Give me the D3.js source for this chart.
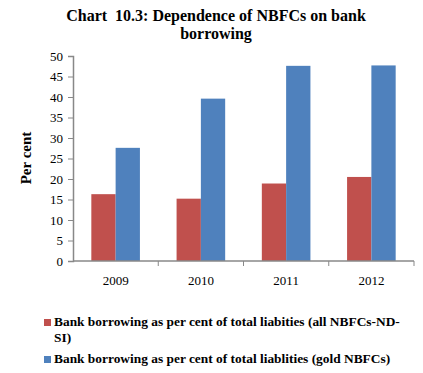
<!DOCTYPE html>
<html>
<head>
<meta charset="utf-8">
<script src="https://cdn.jsdelivr.net/npm/d3@7"></script>
<style>
  body { margin: 0; background: #fff; }
  svg { display: block; font-family: "Liberation Serif", "Times New Roman", "DejaVu Serif", serif; }
</style>
</head>
<body>
<div id="chart"></div>
<script>
// Chart 10.3 values
const years = ["2009", "2010", "2011", "2012"];
const allNbfcs = [16.3, 15.2, 18.9, 20.5];
const goldNbfcs = [27.6, 39.6, 47.6, 47.7];
const yTicks = [0, 5, 10, 15, 20, 25, 30, 35, 40, 45, 50];
const seriesNames = [
  "Bank borrowing as per cent of total liabities (all NBFCs-ND-SI)",
  "Bank borrowing as per cent of total liablities (gold NBFCs)",
];
const seriesColors = ["#C0504D", "#4F81BD"];

const serif = "'Liberation Serif', 'Times New Roman', serif";
const width = 423;
const height = 373;
const margin = { top: 56, right: 9, bottom: 112, left: 73 };
const innerWidth = width - margin.left - margin.right;
const innerHeight = height - margin.top - margin.bottom;

const svg = d3.select("#chart")
  .append("svg")
  .attr("width", width)
  .attr("height", height);

// Title (two lines)
svg.append("text")
  .attr("x", 216)
  .attr("y", 21)
  .attr("text-anchor", "middle")
  .style("font-size", "16px")
  .style("font-weight", "bold")
  .style("white-space", "pre")
  .text("Chart  10.3: Dependence of NBFCs on bank");
svg.append("text")
  .attr("x", 216)
  .attr("y", 39)
  .attr("text-anchor", "middle")
  .style("font-size", "16px")
  .style("font-weight", "bold")
  .text("borrowing");

const g = svg.append("g")
  .attr("transform", `translate(${margin.left}, ${margin.top})`);

// Scales
const x0 = d3.scaleBand()
  .domain(years)
  .range([0, innerWidth])
  .paddingInner(0.43)
  .paddingOuter(0.215);

const x1 = d3.scaleBand()
  .domain([0, 1])
  .range([0, x0.bandwidth()]);

const y = d3.scaleLinear()
  .domain([0, 50])
  .range([innerHeight, 0]);

// Bars
const rows = years.map((yr, i) => ({ year: yr, values: [allNbfcs[i], goldNbfcs[i]] }));

g.selectAll("g.year")
  .data(rows)
  .join("g")
  .attr("class", "year")
  .attr("transform", (d) => `translate(${x0(d.year)}, 0)`)
  .selectAll("rect")
  .data((d) => d.values.map((v, s) => ({ s, v })))
  .join("rect")
  .attr("x", (d) => x1(d.s))
  .attr("y", (d) => y(d.v))
  .attr("width", x1.bandwidth())
  .attr("height", (d) => innerHeight - y(d.v))
  .attr("fill", (d) => seriesColors[d.s]);

// Y axis
const yAxis = g.append("g")
  .call(d3.axisLeft(y).tickValues(yTicks).tickSize(5).tickPadding(5))
  .attr("font-family", serif)
  .attr("font-size", 13);
yAxis.select(".domain").attr("stroke", "#888").attr("stroke-width", 1.5);
yAxis.selectAll(".tick line").attr("stroke", "#888");
yAxis.selectAll(".tick text").attr("fill", "#000");

// X axis: ticks on category boundaries
const xAxis = g.append("g")
  .attr("transform", `translate(0, ${innerHeight})`);
xAxis.append("line")
  .attr("x1", 0)
  .attr("x2", innerWidth)
  .attr("stroke", "#888")
  .attr("stroke-width", 1.5);
const boundaries = years.map((yr) => x0(yr) - x0.step() * x0.paddingInner() / 2);
boundaries.push(innerWidth);
xAxis.selectAll("line.tick")
  .data(boundaries.slice(1))
  .join("line")
  .attr("class", "tick")
  .attr("x1", (d) => d)
  .attr("x2", (d) => d)
  .attr("y1", 0)
  .attr("y2", 5)
  .attr("stroke", "#888");
xAxis.selectAll("text")
  .data(years)
  .join("text")
  .attr("x", (d) => x0(d) + x0.bandwidth() / 2)
  .attr("y", 24)
  .attr("text-anchor", "middle")
  .style("font-size", "13px")
  .text((d) => d);

// Y axis title
svg.append("text")
  .attr("transform", "translate(31, 158) rotate(-90)")
  .attr("text-anchor", "middle")
  .style("font-size", "15px")
  .style("font-weight", "bold")
  .text("Per cent");

// Legend
const legend = svg.append("g").attr("transform", "translate(44, 0)");
const lineStarts = [326, 363];
seriesNames.forEach((name, i) => {
  legend.append("rect")
    .attr("x", 0)
    .attr("y", lineStarts[i] - 7)
    .attr("width", 7)
    .attr("height", 7)
    .attr("fill", seriesColors[i]);
  const t = legend.append("text")
    .attr("x", 10)
    .attr("y", lineStarts[i])
    .style("font-size", "13.4px")
    .style("font-weight", "bold");
  // wrap after "ND-" like the original
  const parts = name.includes("ND-SI") ? [name.replace("SI)", ""), "SI)"] : [name];
  parts.forEach((p, k) => {
    t.append("tspan")
      .attr("x", 10)
      .attr("dy", k === 0 ? 0 : 16)
      .text(p);
  });
});
</script>
</body>
</html>
